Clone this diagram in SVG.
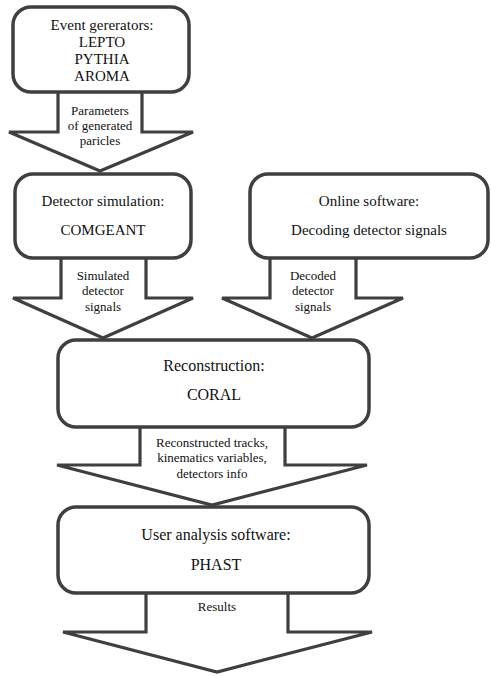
<svg xmlns="http://www.w3.org/2000/svg" width="491" height="676" viewBox="0 0 491 676">
  <style>
    .box { fill: #ffffff; stroke: #3f3f3f; stroke-width: 3.5; }
    .arrow { fill: #ffffff; stroke: #3f3f3f; stroke-width: 3.2; stroke-linejoin: miter; }
    text { font-family: 'Liberation Serif', 'DejaVu Serif', serif; fill: #111111; text-anchor: middle; }
    .big { font-size: 15px; }
    .big16 { font-size: 16px; }
    .lbl { font-size: 13px; }
  </style>
  <rect width="491" height="676" fill="#ffffff"/>

  <!-- block arrows between stages -->
  <g id="connectors" font-family="Liberation Serif, serif">
    <path class="arrow" d="M58,92 V132 H9 L100,171 L193,132 H142 V92"/>
    <path class="arrow" d="M61,258 V298 H13 L103,338 L193,298 H146 V258"/>
    <path class="arrow" d="M270,258 V298 H222 L312,338 L403,298 H356 V258"/>
    <path class="arrow" d="M140,427 V465 H57 L212,505 L367,465 H285 V427"/>
    <path class="arrow" d="M146,593 V632 H63 L217,672 L372,632 H288 V593"/>
    <text class="lbl" x="100" y="115">Parameters</text>
    <text class="lbl" x="100" y="130">of generated</text>
    <text class="lbl" x="100" y="145">paricles</text>
    <text class="lbl" x="103" y="280">Simulated</text>
    <text class="lbl" x="103" y="295">detector</text>
    <text class="lbl" x="103" y="311">signals</text>
    <text class="lbl" x="313" y="280">Decoded</text>
    <text class="lbl" x="313" y="295">detector</text>
    <text class="lbl" x="313" y="311">signals</text>
    <text class="lbl" x="212" y="447">Reconstructed tracks,</text>
    <text class="lbl" x="212" y="462">kinematics variables,</text>
    <text class="lbl" x="212" y="478">detectors info</text>
    <text class="lbl" x="217" y="611">Results</text>
  </g>

  <g id="generators">
    <rect class="box" x="13" y="7" width="176" height="85" rx="18"/>
    <text class="big" x="102" y="30">Event gererators:</text>
    <text class="big" x="102" y="47">LEPTO</text>
    <text class="big" x="102" y="64">PYTHIA</text>
    <text class="big" x="102" y="81">AROMA</text>
  </g>

  <g id="detector-simulation">
    <rect class="box" x="15" y="174" width="176" height="84" rx="18"/>
    <text class="big" x="103" y="206">Detector simulation:</text>
    <text class="big" x="103" y="235">COMGEANT</text>
  </g>

  <g id="online-software">
    <rect class="box" x="250" y="174" width="238" height="84" rx="18"/>
    <text class="big" x="369" y="206">Online software:</text>
    <text class="big" x="369" y="235">Decoding detector signals</text>
  </g>

  <g id="reconstruction">
    <rect class="box" x="58" y="340" width="311" height="87" rx="18"/>
    <text class="big16" x="214" y="371">Reconstruction:</text>
    <text class="big16" x="214" y="400">CORAL</text>
  </g>

  <g id="user-analysis">
    <rect class="box" x="58" y="507" width="311" height="86" rx="18"/>
    <text class="big16" x="216" y="540">User analysis software:</text>
    <text class="big16" x="216" y="570">PHAST</text>
  </g>
</svg>
